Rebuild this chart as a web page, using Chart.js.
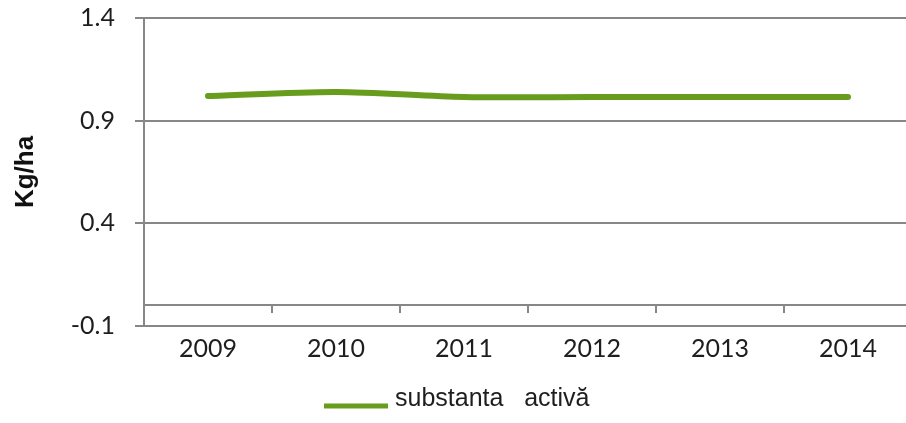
<!DOCTYPE html>
<html>
<head>
<meta charset="utf-8">
<script src="https://cdn.jsdelivr.net/npm/chart.js@4/dist/chart.umd.min.js"></script>
<style>
  html, body { margin: 0; padding: 0; background: #ffffff; overflow: hidden; }
  #wrap { width: 906px; height: 423px; overflow: hidden; position: relative; }
  canvas { display: block; }
</style>
</head>
<body>
<div id="wrap"><canvas id="c" width="912" height="423"></canvas></div>
<script>
// ---- data ----
const years = ['2009', '2010', '2011', '2012', '2013', '2014'];
const substantaActiva = [1.02, 1.04, 1.015, 1.015, 1.015, 1.015];
const yTicks = [-0.1, 0.4, 0.9, 1.4];
const seriesName = 'substanta   activă';
const yTitle = 'Kg/ha';

const green = '#689c1c';
const gridGray = '#878787';
const textColor = '#1e1e1e';

// legend symbol (line sample, sits a little below text centre as in the original)
const sym = document.createElement('canvas');
sym.width = 64; sym.height = 20;
(function () {
  const g = sym.getContext('2d');
  g.fillStyle = green;
  g.fillRect(0, 14, 64, 5);
})();

new Chart(document.getElementById('c'), {
  type: 'line',
  data: {
    labels: years,
    datasets: [{
      label: seriesName,
      data: substantaActiva,
      borderColor: green,
      backgroundColor: green,
      borderWidth: 6,
      borderCapStyle: 'round',
      borderJoinStyle: 'round',
      tension: 0.3,
      pointRadius: 0,
      pointHoverRadius: 0,
      fill: false,
      xAxisID: 'x',
      yAxisID: 'y'
    }]
  },
  options: {
    responsive: false,
    devicePixelRatio: 1,
    animation: false,
    layout: { padding: { left: 8, top: 18, right: 0, bottom: 1 } },
    plugins: {
      tooltip: { enabled: false },
      title: { display: false },
      legend: {
        display: true,
        position: 'bottom',
        labels: {
          usePointStyle: true,
          pointStyle: sym,
          pointStyleWidth: 52,
          padding: 10,
          color: textColor,
          font: { family: '"Liberation Sans", Arial, sans-serif', size: 25 }
        }
      }
    },
    scales: {
      x: {
        type: 'category',
        position: 'bottom',
        offset: true,
        grid: { display: false, drawTicks: false },
        border: { display: false },
        ticks: {
          padding: 8,
          color: textColor,
          maxRotation: 0,
          autoSkip: false,
          font: { family: 'Lato, "Open Sans", sans-serif', size: 25 }
        },
        afterFit: (s) => { s.height = 51; }
      },
      x2: {
        type: 'category',
        labels: years,
        position: { y: 0 },
        offset: true,
        grid: {
          offset: true,
          drawOnChartArea: false,
          drawTicks: true,
          tickLength: 7,
          color: gridGray,
          lineWidth: 2
        },
        border: { display: true, color: gridGray, width: 2 },
        ticks: { display: false }
      },
      y: {
        type: 'linear',
        min: yTicks[0],
        max: yTicks[yTicks.length - 1],
        afterBuildTicks: (s) => { s.ticks = yTicks.map(v => ({ value: v })); },
        grid: {
          color: gridGray,
          lineWidth: 2,
          drawTicks: true,
          tickLength: 9
        },
        border: { display: true, color: gridGray, width: 2 },
        ticks: {
          padding: 20,
          color: textColor,
          font: { family: 'Lato, "Open Sans", sans-serif', size: 25 },
          callback: (v) => Number(v).toFixed(1)
        },
        title: {
          display: true,
          text: yTitle,
          color: '#111111',
          padding: { top: 2, bottom: 0 },
          font: { family: '"Liberation Sans", Arial, sans-serif', size: 26, weight: 'bold' }
        },
        afterFit: (s) => { s.width = 136; s.paddingTop = 0; s.paddingBottom = 0; }
      }
    }
  }
});
</script>
</body>
</html>
